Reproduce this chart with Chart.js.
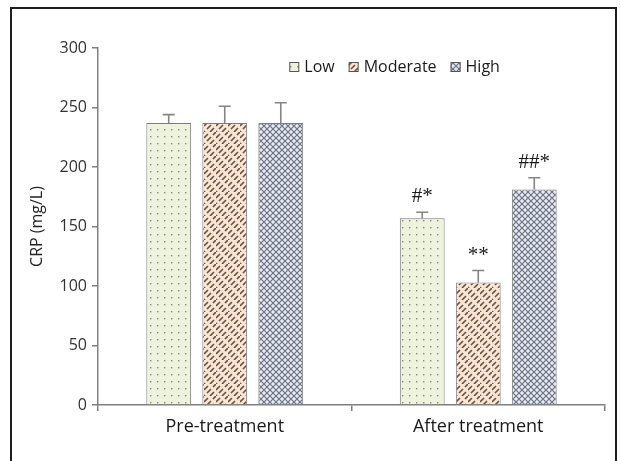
<!DOCTYPE html>
<html>
<head>
<meta charset="utf-8">
<script src="https://cdn.jsdelivr.net/npm/chart.js@4/dist/chart.umd.min.js"></script>
<style>
  html, body { margin: 0; padding: 0; background: #fff; }
  #wrap { position: relative; width: 621px; height: 461px; overflow: hidden; }
  #frame { position: absolute; left: 10px; top: 7px; width: 603px; height: 480px;
           border: 2px solid #1e1e1e; border-bottom: none; }
  canvas { position: absolute; left: 0; top: 0; }
</style>
</head>
<body>
<div id="wrap">
  <div id="frame"></div>
  <canvas id="c" width="621" height="461"></canvas>
</div>
<script>
// Categories, groups and measured values
const categories = ['Pre-treatment', 'After treatment'];
const groups = ['Low', 'Moderate', 'High'];
const lowValues = [237, 157];
const moderateValues = [237, 103];
const highValues = [237, 181];
const lowErrors = [7, 5];
const moderateErrors = [14, 10];
const highErrors = [17, 10];
const lowMarks = ['', '#*'];
const moderateMarks = ['', '**'];
const highMarks = ['', '##*'];
const yTicks = [0, 50, 100, 150, 200, 250, 300];

const FONT = '"Open Sans", Lato, sans-serif';

// Hatch fills for the three groups
function makeTile(w, h, draw) {
  const cv = document.createElement('canvas');
  cv.width = w; cv.height = h;
  const g = cv.getContext('2d');
  draw(g, w, h);
  return cv;
}
const ctxMain = document.getElementById('c').getContext('2d');

// light green with small grey dots
const dotTile = makeTile(7, 7, (g, w, h) => {
  g.fillStyle = '#eef3de'; g.fillRect(0, 0, w, h);
  g.fillStyle = '#858a78';
  g.fillRect(3, 3, 1.4, 1.4);
});
// peach with brick-offset diagonal dashes
const dashTile = makeTile(12, 12, (g, w, h) => {
  g.fillStyle = '#fbe6d6'; g.fillRect(0, 0, w, h);
  g.strokeStyle = '#6c5244'; g.lineWidth = 1.7; g.lineCap = 'butt';
  g.beginPath();
  // first line family
  g.moveTo(0, 6); g.lineTo(4, 2);
  g.moveTo(6, 12); g.lineTo(10, 8);
  // second line family, dashes shifted by half a period
  g.moveTo(3, 9); g.lineTo(7, 5);
  g.moveTo(9, 3); g.lineTo(12.5, -0.5);
  g.moveTo(-0.5, 12.5); g.lineTo(1, 11);
  g.stroke();
});
// pale blue with diamond crosshatch
const crossTile = makeTile(6, 6, (g, w, h) => {
  g.fillStyle = '#e6ebf4'; g.fillRect(0, 0, w, h);
  g.strokeStyle = '#6d7382'; g.lineWidth = 1.2;
  g.beginPath();
  g.moveTo(0, 0); g.lineTo(w, h);
  g.moveTo(w, 0); g.lineTo(0, h);
  g.stroke();
});
const fills = [
  ctxMain.createPattern(dotTile, 'repeat'),
  ctxMain.createPattern(dashTile, 'repeat'),
  ctxMain.createPattern(crossTile, 'repeat')
];

const seriesValues = [lowValues, moderateValues, highValues];
const seriesErrors = [lowErrors, moderateErrors, highErrors];
const seriesMarks = [lowMarks, moderateMarks, highMarks];

// Error bars (upper whisker only) and significance marks
const errorBarPlugin = {
  id: 'errorBars',
  afterDatasetsDraw(chart) {
    const g = chart.ctx;
    const y = chart.scales.y;
    chart.data.datasets.forEach((ds, i) => {
      const meta = chart.getDatasetMeta(i);
      meta.data.forEach((bar, j) => {
        const top = y.getPixelForValue(seriesValues[i][j]);
        const cap = y.getPixelForValue(seriesValues[i][j] + seriesErrors[i][j]);
        g.save();
        g.strokeStyle = '#858585';
        g.lineWidth = 1.6;
        g.beginPath();
        g.moveTo(bar.x, top);
        g.lineTo(bar.x, cap);
        g.moveTo(bar.x - 6, cap);
        g.lineTo(bar.x + 6, cap);
        g.stroke();
        const mark = seriesMarks[i][j];
        if (mark) {
          g.fillStyle = '#1a1a1a';
          g.font = '21px "Liberation Serif", serif';
          g.textAlign = 'center';
          g.textBaseline = 'bottom';
          g.fillText(mark, bar.x, cap - 5);
        }
        g.restore();
      });
    });
  }
};

// Legend drawn inside the plot area
const innerLegend = {
  id: 'innerLegend',
  afterDraw(chart) {
    const g = chart.ctx;
    const area = chart.chartArea;
    g.save();
    g.font = '16px ' + FONT;
    g.textBaseline = 'middle';
    const box = 10, gapBox = 5, gapItem = 14;
    let total = 0;
    const widths = groups.map(t => g.measureText(t).width);
    widths.forEach(w => total += box + gapBox + w);
    total += gapItem * (groups.length - 1);
    let x = area.left + (area.right - area.left) * 0.585 - total / 2;
    const cy = area.top + 19;
    groups.forEach((t, i) => {
      g.fillStyle = fills[i];
      g.fillRect(x, cy - box / 2, box, box);
      g.strokeStyle = '#555';
      g.lineWidth = 1;
      g.strokeRect(x + 0.5, cy - box / 2 + 0.5, box - 1, box - 1);
      g.fillStyle = '#1a1a1a';
      g.fillText(t, x + box + gapBox, cy);
      x += box + gapBox + widths[i] + gapItem;
    });
    g.restore();
  }
};

new Chart(ctxMain, {
  type: 'bar',
  data: {
    labels: categories,
    datasets: groups.map((name, i) => ({
      label: name,
      data: seriesValues[i],
      backgroundColor: fills[i],
      borderColor: '#7b7b7b',
      borderWidth: 1,
      categoryPercentage: 0.663,
      barPercentage: 0.8
    }))
  },
  options: {
    responsive: false,
    animation: false,
    devicePixelRatio: 1,
    layout: { padding: { top: 48, right: 16, bottom: 0, left: 28 } },
    plugins: { legend: { display: false }, tooltip: { enabled: false } },
    scales: {
      x: {
        grid: { display: true, drawOnChartArea: false, offset: true,
                color: '#7f7f7f', tickLength: 6, lineWidth: 1.5 },
        border: { color: '#7f7f7f', width: 1.5 },
        ticks: { color: '#1a1a1a', font: { family: FONT, size: 18 }, padding: 5 },
        afterFit(s) { s.height = 56; }
      },
      y: {
        min: 0, max: 300,
        afterBuildTicks(s) { s.ticks = yTicks.map(v => ({ value: v })); },
        grid: { display: true, drawOnChartArea: false,
                color: '#7f7f7f', tickLength: 6, lineWidth: 1.5 },
        border: { color: '#7f7f7f', width: 1.5 },
        ticks: { color: '#333', font: { family: FONT, size: 16 }, padding: 5 },
        title: { display: true, text: 'CRP (mg/L)', color: '#222',
                 font: { family: FONT, size: 16 }, padding: { top: 0, bottom: 0 } },
        afterFit(s) { s.width = 70; }
      }
    }
  },
  plugins: [errorBarPlugin, innerLegend]
});
</script>
</body>
</html>
